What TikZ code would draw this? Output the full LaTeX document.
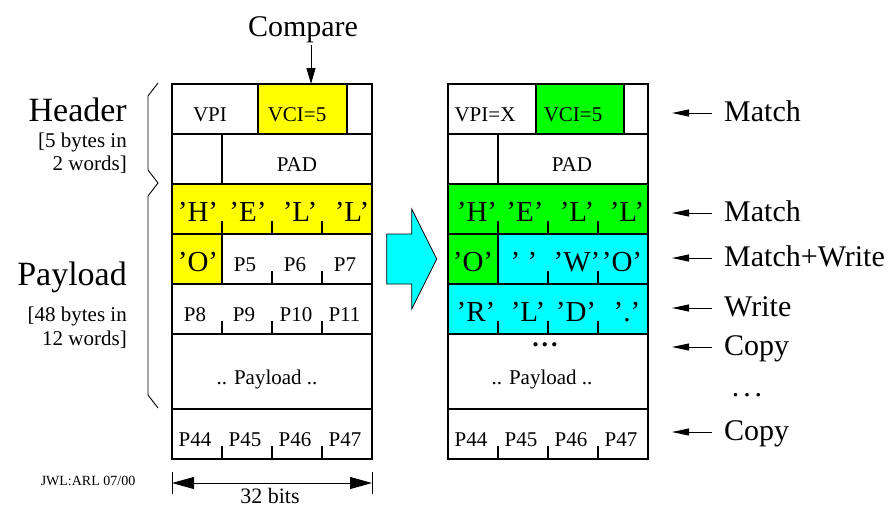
\documentclass[tikz,border=0pt]{standalone}
\usepackage{fontspec}
\setmainfont{Liberation Serif}
\usetikzlibrary{arrows.meta}
\definecolor{hiyellow}{RGB}{255,255,0}
\definecolor{higreen}{RGB}{0,255,0}
\definecolor{hicyan}{RGB}{0,255,255}
\newcommand{\fsz}[1]{\fontsize{#1}{#1}\selectfont}

\begin{document}
\begin{tikzpicture}[x=1pt,y=-1pt,
  frame/.style={line width=2.8pt},
  gridline/.style={line width=1.3pt},
  tickline/.style={line width=1.3pt},
  celltxt/.style={inner sep=0pt, anchor=base, font=\fsz{21}},
  chartxt/.style={inner sep=0pt, anchor=base, font=\fsz{29}},
  sidetxt/.style={inner sep=0pt, anchor=base west, font=\fsz{30}},
  lefttxt/.style={inner sep=0pt, anchor=base east, font=\fsz{34}},
  leftsmall/.style={inner sep=0pt, anchor=base east, font=\fsz{21}},
  lblarrow/.style={line width=1pt, -{Triangle[length=17pt,width=7pt]}},
  bigarrow/.style={fill=hicyan, draw=black, line width=0.8pt},
]
\useasboundingbox (0,0) rectangle (890,507);

% ---------------- original cell ----------------
\begin{scope}[shift={(172,84)}]
  \fill[hiyellow] (86,0) rectangle (175,50);
  \fill[hiyellow] (0,100) rectangle (200,150);
  \fill[hiyellow] (0,150) rectangle (50,200);
  \foreach \yy in {50,100,150,200,250,325} \draw[gridline] (0,\yy) -- (200,\yy);
  \draw[gridline] (86,0) -- (86,50) (175,0) -- (175,50);
  \draw[gridline] (50,50) -- (50,100);
  \draw[gridline] (50,150) -- (50,200);
  \foreach \xx in {50,100,150} {
    \draw[tickline] (\xx,150) -- (\xx,137);
    \draw[tickline] (\xx,250) -- (\xx,237);
    \draw[tickline] (\xx,375) -- (\xx,362);
  }
  \foreach \xx in {100,150} \draw[tickline] (\xx,200) -- (\xx,187);
  \draw[frame] (0,0) rectangle (200,375);
  \node[celltxt] (lvpi) at (38,37) {VPI};
  \node[celltxt] (lvci) at (125,37) {VCI=5};
  \node[celltxt] (lpad) at (125,87.5) {PAD};
  \node[chartxt] (lh) at (26,137) {’H’};
  \node[chartxt] (le) at (76,137) {’E’};
  \node[chartxt] (ll1) at (128,137) {’L’};
  \node[chartxt] (ll2) at (180,137) {’L’};
  \node[chartxt] (lo) at (26,187) {’O’};
  \node[celltxt] (lp5) at (73,187) {P5};
  \node[celltxt] (lp6) at (123,187) {P6};
  \node[celltxt] (lp7) at (173,187) {P7};
  \node[celltxt] (lp8) at (23,237.5) {P8};
  \node[celltxt] (lp9) at (72,237.5) {P9};
  \node[celltxt] (lp10) at (124,237.5) {P10};
  \node[celltxt] (lp11) at (172.5,237.5) {P11};
  \node[celltxt] (lpay) at (95,300) {.. Payload ..};
  \node[celltxt] (lp44) at (23,362.5) {P44};
  \node[celltxt] (lp45) at (73,362.5) {P45};
  \node[celltxt] (lp46) at (123,362.5) {P46};
  \node[celltxt] (lp47) at (173,362.5) {P47};
  \coordinate (ltop) at (139,0);
  \coordinate (lbl) at (0,399);
  \coordinate (lbr) at (200,399);
\end{scope}

% ---------------- rewritten cell ----------------
\begin{scope}[shift={(448,84)}]
  \fill[higreen] (88,0) rectangle (176,50);
  \fill[higreen] (0,100) rectangle (200,150);
  \fill[higreen] (0,150) rectangle (50,200);
  \fill[hicyan] (50,150) rectangle (200,200);
  \fill[hicyan] (0,200) rectangle (200,250);
  \foreach \yy in {50,100,150,200,250,325} \draw[gridline] (0,\yy) -- (200,\yy);
  \draw[gridline] (88,0) -- (88,50) (176,0) -- (176,50);
  \draw[gridline] (50,50) -- (50,100);
  \draw[gridline] (50,150) -- (50,200);
  \foreach \xx in {50,100,150} {
    \draw[tickline] (\xx,150) -- (\xx,137);
    \draw[tickline] (\xx,250) -- (\xx,237);
    \draw[tickline] (\xx,375) -- (\xx,362);
  }
  \foreach \xx in {100,150} \draw[tickline] (\xx,200) -- (\xx,187);
  \draw[frame] (0,0) rectangle (200,375);
  \node[celltxt] (rvpi) at (37,37) {VPI=X};
  \node[celltxt] (rvci) at (125,37) {VCI=5};
  \node[celltxt] (rpad) at (124,87.5) {PAD};
  \node[chartxt] (rh) at (29,137) {’H’};
  \node[chartxt] (re) at (77,137) {’E’};
  \node[chartxt] (rl1) at (129,137) {’L’};
  \node[chartxt] (rl2) at (179,137) {’L’};
  \node[chartxt] (ro) at (25,187) {’O’};
  \node[chartxt] (rsp) at (76,187) {’ ’};
  \node[chartxt] (rw) at (129,187) {’W’};
  \node[chartxt] (ro2) at (174,187) {’O’};
  \node[chartxt] (rr) at (28,237.5) {’R’};
  \node[chartxt] (rl3) at (80,237.5) {’L’};
  \node[chartxt] (rd) at (128,237.5) {’D’};
  \node[chartxt] (rdot) at (179,237.5) {’.’};
  \node[inner sep=0pt, anchor=base, font=\fsz{26}\bfseries] (rdots) at (97,262) {.\kern3pt.\kern3pt.};
  \node[celltxt] (rpay) at (94,300) {.. Payload ..};
  \node[celltxt] (rp44) at (23,362.5) {P44};
  \node[celltxt] (rp45) at (73,362.5) {P45};
  \node[celltxt] (rp46) at (123,362.5) {P46};
  \node[celltxt] (rp47) at (173,362.5) {P47};
\end{scope}

% ---------------- compare label ----------------
\node[inner sep=0pt, anchor=base, font=\fsz{30}] (cmp) at (303,36) {Compare};
\draw[line width=1pt, -{Triangle[length=16pt,width=9pt]}] (ltop |- 0,45) -- (ltop);

% ---------------- width dimension ----------------
\draw[line width=1pt] (lbl |- 0,472) -- (lbl |- 0,494) (lbr |- 0,472) -- (lbr |- 0,494);
\draw[line width=1pt, {Triangle[length=22pt,width=12pt]}-{Triangle[length=22pt,width=12pt]}] (lbl |- 0,483) -- (lbr |- 0,483);
\node[inner sep=0pt, anchor=base, font=\fsz{22}] (bits) at (270,503) {32 bits};
\node[inner sep=0pt, anchor=base, font=\fsz{14}] (auth) at (88,485) {JWL:ARL 07/00};

% ---------------- header / payload brace ----------------
\draw[line width=0.9pt] (158,83) -- (148,96) -- (148,170) -- (158,183) -- (148,196) -- (148,395) -- (158,408);
\node[lefttxt] (hdr) at (127,121.5) {Header};
\node[leftsmall] (hdr1) at (127,147) {[5 bytes in};
\node[leftsmall] (hdr2) at (127,170) {2 words]};
\node[lefttxt] (pld) at (127,285) {Payload};
\node[leftsmall] (pld1) at (127,321.5) {[48 bytes in};
\node[leftsmall] (pld2) at (127,345) {12 words]};

% ---------------- transform arrow ----------------
\draw[bigarrow] (386.7,234) -- (411.7,234) -- (411.7,209) -- (436.7,259)
  -- (411.7,309) -- (411.7,284) -- (386.7,284) -- cycle;

% ---------------- operation labels ----------------
\foreach \nm/\yy/\tx in {a/113/Match, b/213/Match, c/258/Match+Write, d/308/Write, e/347/Copy, f/432/Copy} {
  \node[sidetxt] (op\nm) at (724,\yy+8.5) {\tx};
  \coordinate (tip\nm) at (672,\yy);
  \draw[lblarrow] (op\nm.west |- tip\nm) ++(-12,0) -- (tip\nm);
}
\node[inner sep=0pt, anchor=base, font=\fsz{30}] (opdots) at (747,396.5) {.\kern4pt.\kern4pt.};
\end{tikzpicture}
\end{document}
